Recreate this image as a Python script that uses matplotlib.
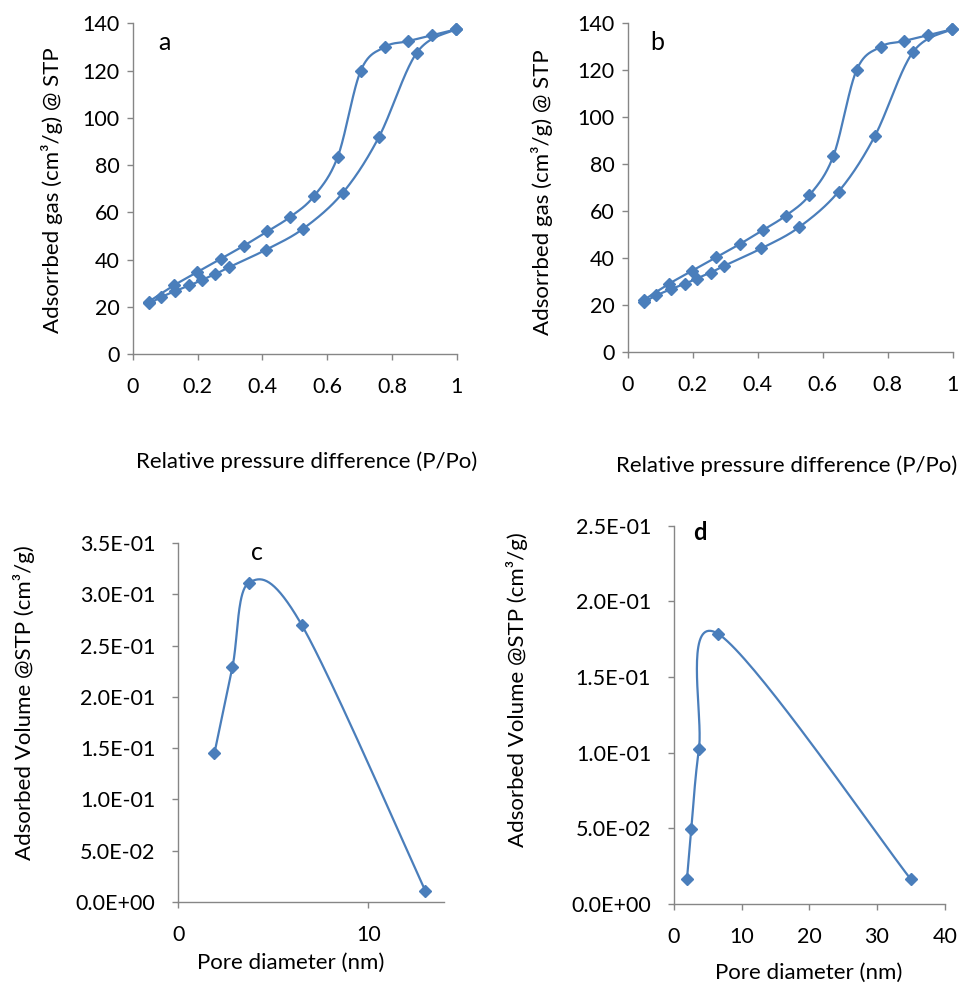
import numpy as np
import matplotlib
matplotlib.use('Agg')
import matplotlib.pyplot as plt
from matplotlib.ticker import MultipleLocator, FuncFormatter

plt.rcParams['font.family'] = ['Lato', 'DejaVu Sans']

# ── isotherm data (panels a and b are the same curves) ──
ads_p = [0.050, 0.088, 0.132, 0.175, 0.213, 0.255, 0.297, 0.411, 0.527, 0.649, 0.760, 0.877, 0.997]
ads_v = [21.5, 24.2, 26.8, 29.1, 31.4, 33.9, 36.8, 44.2, 53.2, 68.4, 91.9, 127.6, 137.4]
des_p = [0.997, 0.923, 0.849, 0.778, 0.704, 0.633, 0.559, 0.486, 0.416, 0.344, 0.272, 0.199, 0.128, 0.050]
des_v = [137.4, 134.9, 132.4, 130.0, 120.0, 83.6, 66.8, 58.1, 52.0, 46.0, 40.4, 34.8, 29.2, 22.3]

# ── pore size distributions ──
pore_c = [1.9, 2.85, 3.7, 6.5, 13.0]
vol_c = [0.145, 0.229, 0.311, 0.270, 0.011]
pore_d = [1.92, 2.56, 3.69, 6.5, 35.0]
vol_d = [0.0167, 0.0496, 0.1026, 0.1786, 0.0163]

BLUE = '#4A7EBB'
GREY = '#868686'
W, H = 972, 984
TICK_FS = 15.5
LABEL_FS = 16


def smooth(ax, xs, ys, n=40):
    """Excel-like smoothed line: Catmull-Rom bezier done in screen space."""
    pts = ax.transData.transform(np.column_stack([xs, ys]))
    p = np.vstack([pts[0], pts, pts[-1]])
    t = np.linspace(0, 1, n)[:, None]
    out = []
    for i in range(1, len(p) - 2):
        p0, p1, p2, p3 = p[i - 1], p[i], p[i + 1], p[i + 2]
        b1 = p1 + (p2 - p0) / 6.0
        b2 = p2 - (p3 - p1) / 6.0
        seg = ((1 - t) ** 3) * p1 + 3 * ((1 - t) ** 2) * t * b1 + 3 * (1 - t) * t ** 2 * b2 + t ** 3 * p2
        out.append(seg)
    curve = ax.transData.inverted().transform(np.vstack(out))
    return curve[:, 0], curve[:, 1]


def style_axes(ax, xpad, ypad):
    for s in ['top', 'right']:
        ax.spines[s].set_visible(False)
    for s in ['left', 'bottom']:
        ax.spines[s].set_color(GREY)
        ax.spines[s].set_linewidth(1.0)
    ax.tick_params(axis='both', direction='out', length=4.5, width=1.0, color=GREY,
                   labelsize=TICK_FS, labelcolor='black')
    ax.tick_params(axis='x', pad=xpad)
    ax.tick_params(axis='y', pad=ypad)


def draw_series(ax, xs, ys):
    sx, sy = smooth(ax, xs, ys)
    ax.plot(sx, sy, color=BLUE, lw=1.6, clip_on=False)
    ax.plot(xs, ys, 'D', color=BLUE, ms=6, clip_on=False)


def rect(l, r, t, b):
    return [l / W, 1 - b / H, (r - l) / W, (b - t) / H]


fig = plt.figure(figsize=(9.72, 9.84), dpi=100)

# ═══ panels a and b ═══
iso_axes = [
    (rect(132.7, 456.7, 23.3, 354.3), 'a', (164, 42), (52, 190), (307, 462)),
    (rect(627.7, 952.7, 23.3, 352.3), 'b', (657, 43), (542, 192), (787, 466)),
]
for pos, tag, tag_xy, ylab_xy, xlab_xy in iso_axes:
    ax = fig.add_axes(pos)
    ax.set_xlim(0, 1)
    ax.set_ylim(0, 140)
    ax.xaxis.set_major_locator(MultipleLocator(0.2))
    ax.yaxis.set_major_locator(MultipleLocator(20))
    ax.xaxis.set_major_formatter(FuncFormatter(lambda v, _: f'{v:g}'))
    style_axes(ax, 12, 5)
    draw_series(ax, ads_p, ads_v)
    draw_series(ax, des_p, des_v)
    fig.text(tag_xy[0] / W, 1 - tag_xy[1] / H, tag, fontsize=18, ha='center', va='center')
    fig.text(ylab_xy[0] / W, 1 - ylab_xy[1] / H, 'Adsorrbed gas (cm³/g) @ STP',
             fontsize=LABEL_FS, rotation=90, ha='center', va='center')
    fig.text(xlab_xy[0] / W, 1 - xlab_xy[1] / H, 'Relative pressure difference (P/Po)',
             fontsize=LABEL_FS, ha='center', va='center')

# ═══ panels c and d ═══
sci = FuncFormatter(lambda v, _: f'{v:.1E}')
psd_axes = [
    (rect(178.3, 444.3, 543, 902), pore_c, vol_c, 14, 10, 0.35, 'c', 'normal', (257, 553), (24, 703), (291, 963)),
    (rect(674, 944.7, 525.7, 904), pore_d, vol_d, 40, 10, 0.25, 'd', 'bold', (700, 533), (517, 690), (809, 973)),
]
for pos, xs, ys, xmax, xstep, ymax, tag, weight, tag_xy, ylab_xy, xlab_xy in psd_axes:
    ax = fig.add_axes(pos)
    ax.set_xlim(0, xmax)
    ax.set_ylim(0, ymax)
    ax.xaxis.set_major_locator(MultipleLocator(xstep))
    ax.yaxis.set_major_locator(MultipleLocator(0.05))
    ax.yaxis.set_major_formatter(sci)
    style_axes(ax, 12, 12)
    draw_series(ax, xs, ys)
    fig.text(tag_xy[0] / W, 1 - tag_xy[1] / H, tag, fontsize=18 if weight == 'normal' else 17,
             fontweight=weight, ha='center', va='center')
    fig.text(ylab_xy[0] / W, 1 - ylab_xy[1] / H, 'Adsorbed Volume @STP (cm³/g)',
             fontsize=LABEL_FS, rotation=90, ha='center', va='center')
    fig.text(xlab_xy[0] / W, 1 - xlab_xy[1] / H, 'Pore diameter (nm)',
             fontsize=LABEL_FS, ha='center', va='center')

fig.savefig('out.png', dpi=100)
